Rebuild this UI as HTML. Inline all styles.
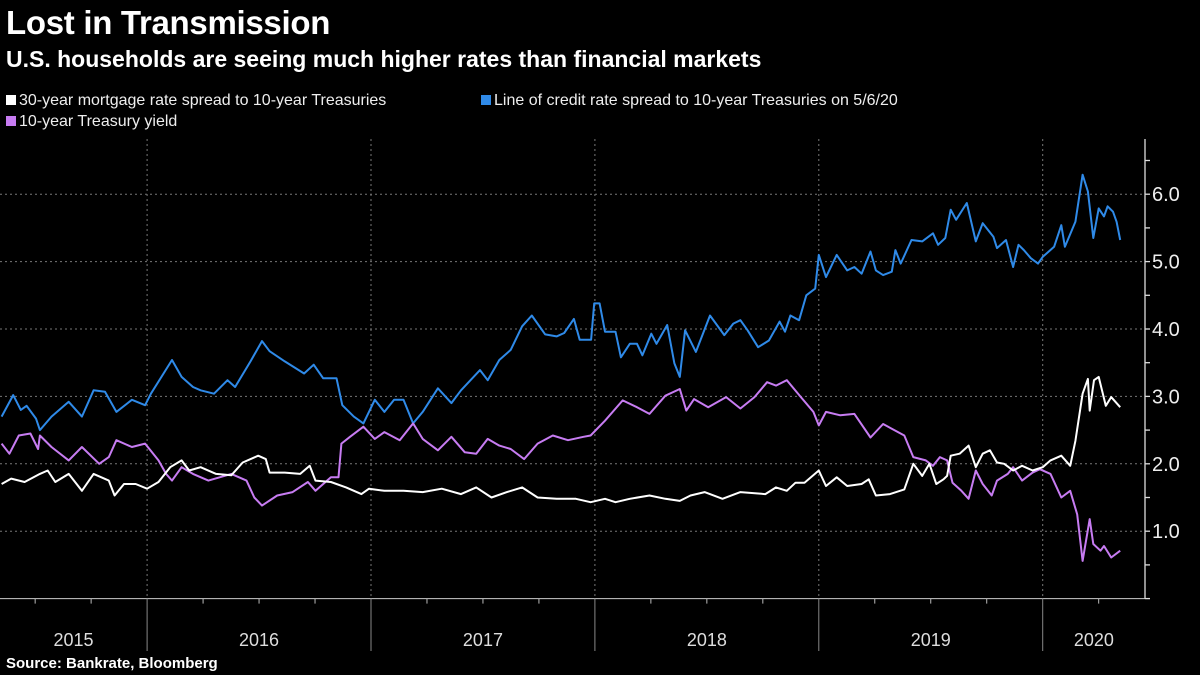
<!DOCTYPE html>
<html><head><meta charset="utf-8">
<style>
body{margin:0;background:#000;width:1200px;height:675px;overflow:hidden;font-family:"Liberation Sans",sans-serif;color:#fff}
#title{position:absolute;left:6px;top:4px;font-size:33px;font-weight:bold;letter-spacing:-0.3px}
#subtitle{position:absolute;left:6px;top:46px;font-size:23px;font-weight:bold}
.leg{position:absolute;font-size:16px;color:#eee;white-space:nowrap}
.sw{display:inline-block;width:10px;height:10px;margin-right:3px;vertical-align:0px}
#source{position:absolute;left:6px;top:655px;font-size:15px;font-weight:bold}
svg{position:absolute;left:0;top:0}
</style></head><body>
<div id="title">Lost in Transmission</div>
<div id="subtitle">U.S. households are seeing much higher rates than financial markets</div>
<div class="leg" style="left:6px;top:92px"><span class="sw" style="background:#fff"></span>30-year mortgage rate spread to 10-year Treasuries</div>
<div class="leg" style="left:481px;top:92px"><span class="sw" style="background:#2f8ae8"></span>Line of credit rate spread to 10-year Treasuries on 5/6/20</div>
<div class="leg" style="left:6px;top:113px"><span class="sw" style="background:#c77cf2"></span>10-year Treasury yield</div>
<div id="source">Source: Bankrate, Bloomberg</div>
<svg id="chart" width="1200" height="675"></svg>
<script>
const yTicks=[1,2,3,4,5,6];
const yTickLabels=["1.0","2.0","3.0","4.0","5.0","6.0"];
const years=[2015,2016,2017,2018,2019,2020];
const blueDates=[2015.350,2015.402,2015.436,2015.462,2015.504,2015.521,2015.573,2015.650,2015.709,2015.761,2015.812,2015.863,2015.932,2015.991,2016.017,2016.111,2016.154,2016.205,2016.239,2016.299,2016.359,2016.393,2016.462,2016.513,2016.547,2016.615,2016.701,2016.744,2016.786,2016.846,2016.872,2016.923,2016.966,2017.017,2017.060,2017.103,2017.145,2017.188,2017.231,2017.299,2017.359,2017.402,2017.487,2017.521,2017.573,2017.624,2017.675,2017.718,2017.778,2017.829,2017.863,2017.906,2017.932,2017.983,
2017.997,2018.021,2018.045,2018.092,2018.116,2018.156,2018.188,2018.212,2018.252,2018.275,2018.323,2018.355,2018.379,2018.403,2018.451,2018.514,2018.578,2018.618,2018.650,2018.682,2018.729,2018.777,2018.825,2018.849,2018.873,2018.912,2018.944,2018.984,2019.000,2019.032,2019.080,2019.127,2019.159,2019.191,2019.231,2019.255,2019.287,2019.326,2019.342,2019.366,2019.414,2019.462,2019.510,2019.533,2019.565,2019.589,2019.613,2019.661,2019.701,2019.732,2019.780,2019.796,2019.836,2019.868,2019.892,2019.916,2019.947,2019.979,2020.000,2020.051,2020.083,2020.099,2020.146,2020.178,2020.202,2020.226,2020.250,2020.274,2020.290,2020.314,2020.330,2020.346];
const blueValues=[2.70,3.02,2.80,2.86,2.67,2.50,2.70,2.92,2.70,3.09,3.07,2.77,2.95,2.87,3.04,3.54,3.29,3.14,3.09,3.04,3.24,3.14,3.52,3.82,3.67,3.52,3.34,3.47,3.27,3.27,2.87,2.70,2.60,2.95,2.77,2.95,2.95,2.60,2.77,3.12,2.90,3.09,3.39,3.24,3.54,3.69,4.04,4.20,3.92,3.89,3.94,4.15,3.84,3.84,
4.38,4.38,3.96,3.96,3.58,3.78,3.78,3.61,3.93,3.78,4.06,3.49,3.29,3.98,3.66,4.20,3.91,4.08,4.13,3.98,3.73,3.83,4.11,3.96,4.20,4.13,4.50,4.60,5.10,4.77,5.10,4.87,4.92,4.82,5.15,4.87,4.80,4.85,5.17,4.97,5.32,5.30,5.42,5.25,5.35,5.77,5.62,5.87,5.30,5.57,5.37,5.20,5.32,4.92,5.25,5.17,5.05,4.97,5.07,5.22,5.54,5.22,5.59,6.29,6.04,5.35,5.79,5.67,5.82,5.74,5.59,5.32];
const purpleDates=[2015.350,2015.385,2015.427,2015.479,2015.513,2015.521,2015.573,2015.650,2015.709,2015.786,2015.829,2015.863,2015.932,2015.991,2016.051,2016.085,2016.111,2016.154,2016.205,2016.274,2016.376,2016.444,2016.479,2016.513,2016.581,2016.650,2016.718,2016.752,2016.821,2016.855,2016.868,2016.906,2016.966,2017.017,2017.060,2017.128,2017.188,2017.231,2017.299,2017.359,2017.419,2017.470,2017.521,2017.573,2017.624,2017.684,2017.744,2017.812,2017.880,2017.949,
2017.981,2018.045,2018.124,2018.188,2018.244,2018.315,2018.379,2018.408,2018.443,2018.506,2018.586,2018.650,2018.713,2018.769,2018.809,2018.857,2018.920,2018.976,2019.000,2019.032,2019.096,2019.159,2019.231,2019.287,2019.382,2019.422,2019.478,2019.510,2019.541,2019.573,2019.597,2019.637,2019.669,2019.701,2019.732,2019.772,2019.796,2019.844,2019.868,2019.908,2019.955,2019.987,2020.035,2020.083,2020.123,2020.154,2020.178,2020.210,2020.226,2020.258,2020.274,2020.306,2020.346];
const purpleValues=[2.30,2.15,2.42,2.45,2.22,2.42,2.25,2.05,2.25,2.00,2.10,2.35,2.25,2.30,2.05,1.85,1.75,1.95,1.85,1.75,1.85,1.75,1.50,1.38,1.53,1.58,1.73,1.60,1.80,1.80,2.30,2.40,2.55,2.37,2.47,2.35,2.60,2.37,2.20,2.40,2.17,2.15,2.37,2.27,2.22,2.07,2.30,2.42,2.35,2.40,
2.42,2.64,2.94,2.84,2.74,3.01,3.11,2.79,2.96,2.84,2.99,2.82,2.99,3.21,3.16,3.24,2.99,2.77,2.57,2.77,2.72,2.74,2.39,2.59,2.42,2.10,2.05,1.97,2.10,2.05,1.72,1.60,1.48,1.90,1.70,1.53,1.75,1.85,1.95,1.75,1.87,1.92,1.85,1.50,1.60,1.25,0.56,1.18,0.81,0.71,0.78,0.61,0.71];
const whiteDates=[2015.350,2015.393,2015.453,2015.521,2015.556,2015.590,2015.650,2015.709,2015.761,2015.829,2015.855,2015.897,2015.949,2016.000,2016.051,2016.103,2016.154,2016.188,2016.239,2016.308,2016.376,2016.427,2016.496,2016.530,2016.547,2016.615,2016.684,2016.726,2016.752,2016.821,2016.889,2016.957,2016.991,2017.060,2017.145,2017.231,2017.316,2017.402,2017.470,2017.538,2017.607,2017.675,2017.744,2017.829,2017.915,
2017.981,2018.045,2018.092,2018.156,2018.244,2018.315,2018.379,2018.427,2018.490,2018.570,2018.650,2018.761,2018.809,2018.857,2018.896,2018.936,2019.000,2019.032,2019.080,2019.127,2019.191,2019.223,2019.255,2019.318,2019.382,2019.422,2019.462,2019.494,2019.525,2019.557,2019.573,2019.589,2019.629,2019.669,2019.701,2019.732,2019.764,2019.796,2019.828,2019.868,2019.908,2019.955,2020.000,2020.035,2020.083,2020.123,2020.146,2020.178,2020.202,2020.210,2020.229,2020.250,2020.282,2020.306,2020.346];
const whiteValues=[1.70,1.78,1.73,1.85,1.90,1.73,1.85,1.60,1.85,1.75,1.53,1.70,1.70,1.63,1.73,1.95,2.05,1.90,1.95,1.85,1.83,2.02,2.12,2.07,1.87,1.87,1.85,1.97,1.75,1.73,1.65,1.55,1.63,1.60,1.60,1.58,1.63,1.55,1.65,1.50,1.58,1.65,1.50,1.48,1.48,
1.43,1.48,1.43,1.48,1.53,1.48,1.45,1.53,1.58,1.48,1.58,1.55,1.65,1.60,1.72,1.72,1.90,1.67,1.80,1.67,1.70,1.77,1.53,1.55,1.62,2.00,1.82,2.00,1.70,1.77,1.82,2.12,2.15,2.27,1.95,2.15,2.20,2.02,2.00,1.90,1.97,1.90,1.95,2.05,2.12,1.97,2.34,3.04,3.26,2.79,3.24,3.29,2.86,2.99,2.84];

const NS="http://www.w3.org/2000/svg";
const svg=document.getElementById('chart');
const X0=1042.7, PXY=223.9, Y0=598.6, PXV=67.4, AX=1145, TOP=139;
function xs(t){return X0+(t-2020)*PXY;}
function ys(v){return Y0-v*PXV;}
function mk(tag,attrs){const e=document.createElementNS(NS,tag);for(const k in attrs)e.setAttribute(k,attrs[k]);svg.appendChild(e);return e;}

// horizontal gridlines + y labels
yTicks.forEach((v,i)=>{
  const g=mk('line',{x1:0,x2:AX,y1:ys(v),y2:ys(v),stroke:'#777','stroke-width':1,'stroke-dasharray':'2,3'});
  
  
  const t=mk('text',{x:AX+7,y:ys(v)+7,fill:'#eee','font-size':20,'font-family':'Liberation Sans, sans-serif'});
  t.textContent=yTickLabels[i];
  
  
});
// y axis line and ticks
const yax=mk('line',{x1:AX,x2:AX,y1:TOP,y2:Y0,stroke:'#ddd','stroke-width':1.3});


for(let v=0;v<=6.5;v+=0.5){
  const tk=mk('line',{x1:AX,x2:AX+5,y1:ys(v),y2:ys(v),stroke:'#ddd','stroke-width':1.3});
  
  
}
// x axis
const xax=mk('line',{x1:0,x2:AX,y1:Y0,y2:Y0,stroke:'#ccc','stroke-width':1});


years.forEach(yr=>{
  const xb=xs(yr);
  if(xb>0){
    const vg=mk('line',{x1:xb,x2:xb,y1:TOP,y2:Y0,stroke:'#777','stroke-width':1,'stroke-dasharray':'2,3'});
    
    
    const sep=mk('line',{x1:xb,x2:xb,y1:Y0,y2:651,stroke:'#888','stroke-width':1});
    
    
  }
  [0.25,0.5,0.75].forEach(q=>{const xq=xs(yr+q);if(xq>0&&xq<AX){
    const qt=mk('line',{x1:xq,x2:xq,y1:Y0,y2:Y0+5,stroke:'#bbb','stroke-width':1});
    
    
  }});
  const a=Math.max(0,xs(yr)), b=Math.min(AX,xs(yr+1));
  const lb=mk('text',{x:(a+b)/2,y:646,fill:'#ddd','font-size':18,'text-anchor':'middle','font-family':'Liberation Sans, sans-serif'});
  lb.textContent=String(yr);
  
  
});
function series(d,v,color,name){
  const pts=d.map((t,i)=>xs(t).toFixed(1)+','+ys(v[i]).toFixed(1)).join(' ');
  const p=mk('polyline',{points:pts,fill:'none',stroke:color,'stroke-width':2,'stroke-linejoin':'round'});
  
  
}
series(blueDates,blueValues,'#2f8ae8','credit-spread-line');
series(purpleDates,purpleValues,'#c77cf2','treasury-yield-line');
series(whiteDates,whiteValues,'#ffffff','mortgage-spread-line');
</script>
</body></html>
